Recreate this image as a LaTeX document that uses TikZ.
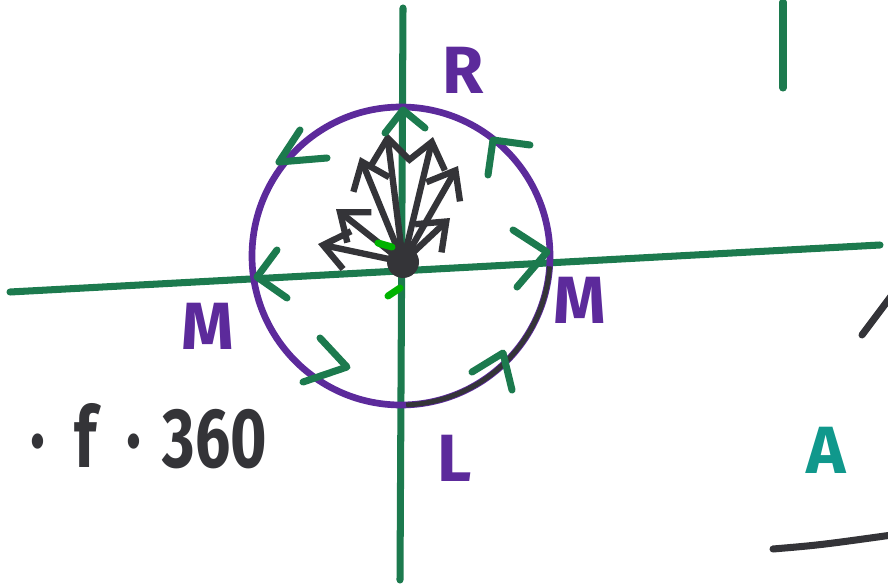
\documentclass[tikz,border=0pt]{standalone}
\usepackage{fontspec}
\setsansfont{Fira Sans}
\newfontfamily\handfont[FakeStretch=0.74]{Fira Sans}
\usetikzlibrary{arrows.meta}
\definecolor{axisgreen}{RGB}{28,122,78}
\definecolor{ringpurple}{RGB}{92,42,155}
\definecolor{penblack}{RGB}{52,52,56}
\definecolor{penteal}{RGB}{16,152,140}
\tikzset{
    axis/.style={
        line width=2pt,
        axisgreen,
        line cap=round
    },
    ring/.style={
        line width=1.9pt,
        ringpurple
    },
    chev/.style={
        line width=2pt,
        axisgreen,
        line cap=round,
        line join=round
    },
    vec/.style={
        -{Straight Barb[length=7pt,width=11pt]},
        line width=1.8pt,
        penblack,
        line cap=round
    },
    letter/.style={
        font=\sffamily\bfseries\fontsize{19}{19}\selectfont,
        ringpurple
    }
}

\begin{document}
\begin{tikzpicture}[x=0.01cm,y=-0.01cm]

\useasboundingbox (0,0) rectangle (888,588);

% axes
\draw[axis] (403,8) -- (400,580);
\draw[axis] (10,292) -- (880,245);
\draw[axis] (783,2) -- (783,88);

% the circle
\coordinate (O) at (403,262);
\draw[ring] (401,256) circle[radius=149];
\draw[line width=1.4pt,penblack] (401,256) ++(4:149) arc[start angle=4,end angle=88,radius=149];

% arrows from the origin
\foreach \tip in {(318,244),(336,209),(360,157),(387,133),(433,137),(458,166),(450,218)}
    \draw[vec] (O) -- \tip;
\fill[penblack] (O) circle[radius=16];
\draw[line width=2pt,green!70!black,line cap=round] (378,243) -- (392,247);
\draw[line width=2pt,green!70!black,line cap=round] (388,296) -- (400,288);

% direction marks on the circle
\draw[chev] (300,130) -- (279,162) -- (327,158);
\draw[chev] (530,145) -- (493,140) -- (488,175);
\draw[chev] (513,230) -- (547,252) -- (517,287);
\draw[chev] (472,372) -- (503,353) -- (512,390);
\draw[chev] (320,338) -- (347,367) -- (303,382);
\draw[chev] (277,250) -- (257,277) -- (287,298);
\draw[chev] (385,133) -- (403,110) -- (425,128);

% labels
\node[letter] (R) at (463,70) {R};
\node[letter] (Ml) at (208,326) {M};
\node[letter] (Mr) at (580,300) {M};
\node[letter] (L) at (455,458) {L};
\node[font=\handfont\bfseries\fontsize{24}{24}\selectfont,penblack,anchor=west] (freq) at (18,436) {·\hspace{0.35em}f\hspace{0.35em}·\hspace{0.25em}360};
\node[font=\sffamily\bfseries\fontsize{19}{19}\selectfont,penteal] (A) at (826,450) {A};

% strokes at the right edge
\draw[line width=2pt,penblack,line cap=round] (862,335) -- (892,295);
\draw[line width=2pt,penblack,line cap=round] (773,549) .. controls (820,545) .. (892,535);

\end{tikzpicture}
\end{document}
